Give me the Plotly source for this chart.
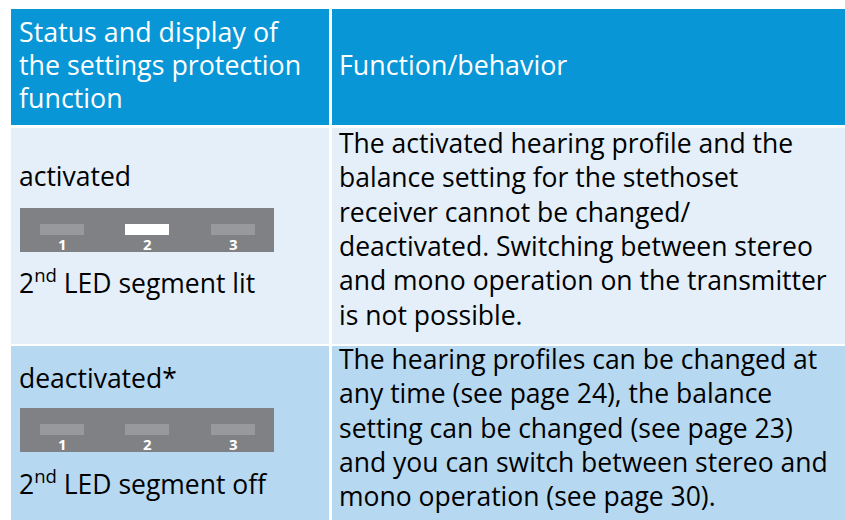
import plotly.graph_objects as go

# ---------------- data ----------------
header_col1_lines = ["Status and display of", "the settings protection", "function"]
header_col2_lines = ["Function/behavior"]
status_labels = ["activated", "deactivated*"]
led_captions = ["2<sup>nd</sup> LED segment lit", "2<sup>nd</sup> LED segment off"]
led_states = [[False, True, False], [False, False, False]]
segment_labels = ["1", "2", "3"]
descriptions = [
    ["The activated hearing profile and the",
     "balance setting for the stethoset",
     "receiver cannot be changed/",
     "deactivated. Switching between stereo",
     "and mono operation on the transmitter",
     "is not possible."],
    ["The hearing profiles can be changed at",
     "any time (see page 24), the balance",
     "setting can be changed (see page 23)",
     "and you can switch between stereo and",
     "mono operation (see page 30)."],
]

# ---------------- layout / style ----------------
W, H = 845, 520
FONT = "Open Sans"
FS = 26.5
FS_HEAD = 26.8
LINE = 34.3
HEADER_BG = "rgb(9,150,214)"
ROW_BG = ["rgb(228,239,249)", "rgb(183,216,241)"]
PANEL = "rgb(128,129,132)"
SEG_OFF = "rgb(152,153,156)"
SEG_ON = "white"

X0, XS1, XS2, X1 = 11, 329, 332, 845
HEAD_Y = (9, 125)
ROW_Y = [(128, 344), (346, 520)]
TEXT_L, TEXT_R = 17, 337

shapes = []
ann = []

def rect(x0, y0, x1, y1, color):
    shapes.append(dict(type="rect", xref="x", yref="y", x0=x0, x1=x1, y0=y0, y1=y1,
                       fillcolor=color, line=dict(width=0), layer="below"))

def text(x, y, s, color="black", size=FS, anchor="left", bold=False):
    if bold:
        s = "<b>" + s + "</b>"
    ann.append(dict(x=x, y=y, xref="x", yref="y", text=s, showarrow=False,
                    xanchor=anchor, yanchor="middle",
                    font=dict(family=FONT, size=size, color=color)))

# header
rect(X0, HEAD_Y[0], XS1, HEAD_Y[1], HEADER_BG)
rect(XS2, HEAD_Y[0], X1, HEAD_Y[1], HEADER_BG)
for i, s in enumerate(header_col1_lines):
    text(TEXT_L, 31 + i * 33, s, color="white", size=FS_HEAD)
for i, s in enumerate(header_col2_lines):
    text(TEXT_R, 64 + i * 33, s, color="white", size=FS_HEAD)

# body rows
status_y = [176, 378]
panel_top = [208, 408]
caption_y = [281, 482]
desc_top = [143, 359]
seg_x = [(40, 84), (125, 169), (211, 255)]
for r in range(len(status_labels)):
    y0, y1 = ROW_Y[r]
    rect(X0, y0, XS1, y1, ROW_BG[r])
    rect(XS2, y0, X1, y1, ROW_BG[r])
    text(TEXT_L, status_y[r], status_labels[r])
    pt = panel_top[r]
    rect(20, pt, 274, pt + 44, PANEL)
    for k, (sx0, sx1) in enumerate(seg_x):
        rect(sx0, pt + 16, sx1, pt + 27, SEG_ON if led_states[r][k] else SEG_OFF)
        text((sx0 + sx1) / 2, pt + 36, segment_labels[k], color="white", size=15,
             anchor="center", bold=True)
    text(TEXT_L, caption_y[r], led_captions[r])
    for i, s in enumerate(descriptions[r]):
        text(TEXT_R, desc_top[r] + i * LINE, s)

fig = go.Figure()
fig.update_layout(
    width=W, height=H, margin=dict(l=0, r=0, t=0, b=0),
    paper_bgcolor="white", plot_bgcolor="white",
    xaxis=dict(range=[0, W], visible=False, fixedrange=True),
    yaxis=dict(range=[H, 0], visible=False, fixedrange=True),
    shapes=shapes, annotations=ann, showlegend=False,
)
fig.write_html(
    "out.html",
    config={"displayModeBar": False},
    post_script="document.body.style.margin='0';document.body.style.overflow='hidden';",
)
